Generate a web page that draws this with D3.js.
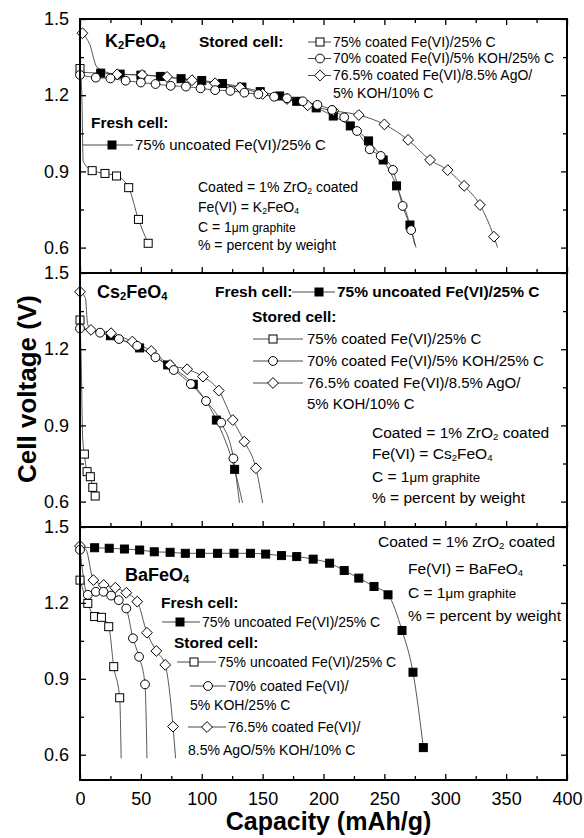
<!DOCTYPE html>
<html>
<head>
<meta charset="utf-8">
<script src="https://cdn.jsdelivr.net/npm/d3@7"></script>
<style>
  body { margin: 0; background: #fff; }
  svg { display: block; font-family: "Liberation Sans", Arial, Helvetica, sans-serif; }
</style>
</head>
<body>
<div id="chart"></div>
<script>
// ---- data: [capacity mAh/g, cell voltage V] ; a third value 0 marks a curve knot with no symbol
const capTicks = [0, 50, 100, 150, 200, 250, 300, 350, 400];
const capMinor = [25, 75, 125, 175, 225, 275, 325, 375];
const voltTicks = [0.6, 0.9, 1.2, 1.5];
const voltMinor = [0.75, 1.05, 1.35];

// K2FeO4
const kFresh = [[0,1.29,0],[17,1.287],[33,1.283],[50,1.279],[66,1.274],[83,1.265],[100,1.258],[117,1.246],[133,1.232],[148,1.214],[164,1.197],[178,1.176],[194,1.150],[208,1.118],[222,1.079],[237,1.020],[249,0.945],[260,0.843],[271,0.689],[276,0.60,0]];
const kCoated = [[0,1.305],[1.5,1.2,0],[2.6,0.94,0],[10,0.903],[20.5,0.892],[30,0.882],[40,0.836],[48,0.711],[56,0.617]];
const kKoh = [[0,1.28],[13,1.269],[25,1.266],[37.5,1.257],[50,1.25],[62,1.244],[74.5,1.237],[87,1.234],[99,1.227],[111,1.22],[123.5,1.217],[135,1.21],[146.5,1.204],[159.5,1.194],[170,1.188],[183,1.176],[195,1.162],[207,1.142],[217,1.113],[227.5,1.059],[238,0.987],[247,0.961],[257,0.906],[265,0.764],[272,0.669],[275,0.61,0]];
const kAgo = [[2,1.444],[8,1.40,0],[14,1.31,0],[30.5,1.282],[51,1.28],[71.5,1.272],[92,1.259],[111,1.247],[131.5,1.23],[150,1.205],[170,1.185],[187,1.16],[208,1.139],[229,1.122],[250,1.085],[269.5,1.024],[287.5,0.945],[302,0.905],[315.5,0.843],[328.5,0.768],[340,0.643],[343,0.60,0]];

// Cs2FeO4
const cFresh = [[0,1.285,0],[25,1.253],[49,1.205],[72,1.138],[93,1.062],[112,0.921],[127,0.727],[133.5,0.595,0]];
const cCoated = [[0,1.315],[1,1.15,0],[2.2,0.85,0],[3.6,0.787],[5.8,0.718],[8.5,0.698],[10.5,0.656],[12.5,0.622]];
const cKoh = [[0,1.282],[16.5,1.265],[32,1.24],[47,1.213],[62,1.168],[77,1.118],[91,1.063],[103.5,0.996],[116,0.911],[126,0.77],[131,0.595,0]];
const cAgo = [[0,1.426],[4.5,1.40,0],[6.2,1.30,0],[9,1.276],[25.5,1.263],[43,1.23],[58.5,1.193],[74,1.138],[88,1.121],[101,1.092],[114,1.037],[125.5,0.921],[135,0.836],[144.5,0.731],[150,0.595,0]];

// BaFeO4
const bFresh = [[0,1.42,0],[12,1.418],[24,1.416],[36.5,1.413],[49,1.409],[61,1.402],[74,1.400],[86.5,1.396],[99,1.396],[113,1.396],[126.5,1.396],[140,1.396],[152.5,1.393],[165.5,1.387],[178,1.383],[191.5,1.373],[205,1.357],[217,1.328],[229,1.298],[241.5,1.265],[253,1.232],[264.5,1.091],[273.5,0.926],[282,0.628]];
const bUncoated = [[0,1.29],[6.4,1.198],[12,1.146],[17.6,1.143],[23.6,1.106],[27.7,0.948],[32.6,0.825],[33.8,0.586,0]];
const bKoh = [[0,1.41],[6.4,1.232],[13,1.244],[19.3,1.244],[25.6,1.229],[31.8,1.211],[38,1.178],[43.5,1.06],[48.5,0.987],[53.4,0.878],[55,0.586,0]];
const bAgo = [[0,1.425],[5,1.41,0],[11,1.29],[19.5,1.271],[29,1.26],[38,1.24],[47,1.205],[55,1.082],[62.7,1.01],[70,0.955],[76.4,0.711],[78.5,0.586,0]];

// ---- layout
const W = 584, H = 838;
const left = 80, right = 567;
const panels = [
  { top: 19,  bottom: 273, series: [[kFresh,'sqf'],[kCoated,'sq'],[kAgo,'dia'],[kKoh,'cir']], topTicks: true,  labels: false },
  { top: 273, bottom: 527, series: [[cFresh,'sqf'],[cCoated,'sq'],[cAgo,'dia'],[cKoh,'cir']], topTicks: false, labels: false },
  { top: 527, bottom: 780, series: [[bFresh,'sqf'],[bUncoated,'sq'],[bAgo,'dia'],[bKoh,'cir']], topTicks: false, labels: true }
];

const svg = d3.select('#chart').append('svg').attr('width', W).attr('height', H);
const x = d3.scaleLinear().domain([0, 400]).range([left, right]);

function marker(g, type, cx, cy) {
  if (type === 'sq' || type === 'sqf') {
    g.append('rect').attr('x', cx - 4).attr('y', cy - 4).attr('width', 8).attr('height', 8)
      .attr('fill', type === 'sqf' ? '#000' : '#fff').attr('stroke', '#000').attr('stroke-width', 1);
  } else if (type === 'cir') {
    g.append('circle').attr('cx', cx).attr('cy', cy).attr('r', 4.4)
      .attr('fill', '#fff').attr('stroke', '#000').attr('stroke-width', 1);
  } else {
    const s = 5.4;
    g.append('path').attr('d', `M${cx},${cy - s}L${cx + s},${cy}L${cx},${cy + s}L${cx - s},${cy}Z`)
      .attr('fill', '#fff').attr('stroke', '#000').attr('stroke-width', 1);
  }
}

function rich(g, tx, ty, parts, size, weight) {
  const t = g.append('text').attr('x', tx).attr('y', ty).attr('dy', '0.35em')
    .style('font-size', size + 'px').style('font-weight', weight || 'normal').attr('fill', '#000');
  parts.forEach(p => {
    if (typeof p === 'string') t.append('tspan').text(p);
    else if (p.sub) t.append('tspan').attr('baseline-shift', '-22%').style('font-size', (size * 0.62) + 'px').text(p.sub);
    else if (p.small) t.append('tspan').style('font-size', (size * 0.86) + 'px').text(p.small);
  });
  return t;
}

function legendRow(g, x1, x2, mx, y, type) {
  g.append('line').attr('x1', x1).attr('x2', x2).attr('y1', y).attr('y2', y)
    .attr('stroke', '#333').attr('stroke-width', 0.9);
  marker(g, type, mx, y);
}

panels.forEach(p => {
  const y = d3.scaleLinear().domain([0.5, 1.5]).range([p.bottom, p.top]);
  p.y = y;
  const g = svg.append('g');

  const line = d3.line().x(d => x(d[0])).y(d => y(d[1])).curve(d3.curveMonotoneX);
  p.series.forEach(([data]) => {
    g.append('path').datum(data).attr('d', line)
      .attr('fill', 'none').attr('stroke', '#444').attr('stroke-width', 0.9);
  });
  p.series.forEach(([data, type]) => {
    data.filter(d => d[2] !== 0).forEach(d => marker(g, type, x(d[0]), y(d[1])));
  });

  // axes
  const styleAxis = a => {
    a.select('.domain').remove();
    a.selectAll('line').attr('stroke', '#000').attr('stroke-width', 1.3);
    a.selectAll('text').style('font-size', '18px').attr('fill', '#000');
  };
  g.append('g').attr('transform', `translate(0,${p.bottom})`)
    .call(d3.axisBottom(x).tickValues(capTicks).tickSize(-6).tickPadding(12)
      .tickFormat(p.labels ? d3.format('d') : () => ''))
    .call(styleAxis);
  g.append('g').attr('transform', `translate(0,${p.bottom})`)
    .call(d3.axisBottom(x).tickValues(capMinor).tickSize(-4).tickFormat(() => ''))
    .call(styleAxis);
  if (p.topTicks) {
    g.append('g').attr('transform', `translate(0,${p.top})`)
      .call(d3.axisTop(x).tickValues(capTicks).tickSize(-6).tickFormat(() => ''))
      .call(styleAxis);
    g.append('g').attr('transform', `translate(0,${p.top})`)
      .call(d3.axisTop(x).tickValues(capMinor).tickSize(-4).tickFormat(() => ''))
      .call(styleAxis);
  }
  g.append('g').attr('transform', `translate(${left},0)`)
    .call(d3.axisLeft(y).tickValues(voltTicks).tickSize(-6).tickPadding(11).tickFormat(d3.format('.1f')))
    .call(styleAxis);
  g.append('g').attr('transform', `translate(${left},0)`)
    .call(d3.axisLeft(y).tickValues(voltMinor).tickSize(-4).tickFormat(() => ''))
    .call(styleAxis);
  g.append('g').attr('transform', `translate(${right},0)`)
    .call(d3.axisRight(y).tickValues(voltTicks).tickSize(-6).tickFormat(() => ''))
    .call(styleAxis);
  g.append('g').attr('transform', `translate(${right},0)`)
    .call(d3.axisRight(y).tickValues(voltMinor).tickSize(-4).tickFormat(() => ''))
    .call(styleAxis);

  g.append('rect').attr('x', left).attr('y', p.top).attr('width', right - left).attr('height', p.bottom - p.top)
    .attr('fill', 'none').attr('stroke', '#000').attr('stroke-width', 2);
});

// ---- annotations, panel 1 (K2FeO4)
const a = svg.append('g');
rich(a, 105, 41, ['K', {sub: '2'}, 'FeO', {sub: '4'}], 18, 'bold');
rich(a, 199, 42, ['Stored cell:'], 15.5, 'bold');
legendRow(a, 308, 331, 320, 42, 'sq');
rich(a, 333, 42, ['75% coated Fe(VI)/25% C'], 14);
legendRow(a, 308, 331, 320, 58.5, 'cir');
rich(a, 333, 58.5, ['70% coated Fe(VI)/5% KOH/25% C'], 14);
legendRow(a, 308, 331, 320, 75.5, 'dia');
rich(a, 333, 75.5, ['76.5% coated Fe(VI)/8.5% AgO/'], 14);
rich(a, 333, 93, ['5% KOH/10% C'], 14);
rich(a, 91, 123, ['Fresh cell:'], 15.5, 'bold');
legendRow(a, 83, 133, 112, 145, 'sqf');
rich(a, 135, 145, ['75% uncoated Fe(VI)/25% C'], 15);
rich(a, 198, 187, ['Coated = 1% ZrO', {sub: '2'}, ' coated'], 14);
rich(a, 198, 207, ['Fe(VI) = K', {sub: '2'}, 'FeO', {sub: '4'}], 14);
rich(a, 198, 227, ['C = 1', {small: 'μm graphite'}], 14);
rich(a, 198, 245, ['% = percent by weight'], 14);

// ---- panel 2 (Cs2FeO4)
rich(a, 97, 292, ['Cs', {sub: '2'}, 'FeO', {sub: '4'}], 18, 'bold');
rich(a, 215, 292, ['Fresh cell:'], 15.5, 'bold');
legendRow(a, 292, 335, 319, 292, 'sqf');
rich(a, 337, 292, ['75% uncoated Fe(VI)/25% C'], 15.5, 'bold');
rich(a, 252, 317, ['Stored cell:'], 15.5, 'bold');
legendRow(a, 253, 303, 273, 339, 'sq');
rich(a, 307, 339, ['75% coated Fe(VI)/25% C'], 15);
legendRow(a, 253, 303, 273, 361, 'cir');
rich(a, 307, 361, ['70% coated Fe(VI)/5% KOH/25% C'], 15);
legendRow(a, 253, 303, 273, 383, 'dia');
rich(a, 307, 383, ['76.5% coated Fe(VI)/8.5% AgO/'], 15);
rich(a, 307, 404, ['5% KOH/10% C'], 15);
rich(a, 372, 433, ['Coated = 1% ZrO', {sub: '2'}, ' coated'], 15.5);
rich(a, 372, 454, ['Fe(VI) = Cs', {sub: '2'}, 'FeO', {sub: '4'}], 15.5);
rich(a, 372, 477, ['C = 1', {small: 'μm graphite'}], 15.5);
rich(a, 372, 498, ['% = percent by weight'], 15.5);

// ---- panel 3 (BaFeO4)
rich(a, 125, 575, ['BaFeO', {sub: '4'}], 18, 'bold');
rich(a, 161, 603, ['Fresh cell:'], 15.5, 'bold');
legendRow(a, 162, 200, 180, 622, 'sqf');
rich(a, 202, 622, ['75% uncoated Fe(VI)/25% C'], 14);
rich(a, 174, 643, ['Stored cell:'], 15.5, 'bold');
legendRow(a, 177, 216, 194, 662, 'sq');
rich(a, 218, 662, ['75% uncoated Fe(VI)/25% C'], 14);
legendRow(a, 190, 226, 208, 686, 'cir');
rich(a, 228, 686, ['70% coated Fe(VI)/'], 14);
rich(a, 190, 705, ['5% KOH/25% C'], 14);
legendRow(a, 188, 226, 207, 727, 'dia');
rich(a, 228, 727, ['76.5% coated Fe(VI)/'], 14);
rich(a, 188, 750, ['8.5% AgO/5% KOH/10% C'], 14);
rich(a, 378, 542, ['Coated = 1% ZrO', {sub: '2'}, ' coated'], 15.5);
rich(a, 408, 569, ['Fe(VI) = BaFeO', {sub: '4'}], 15.5);
rich(a, 408, 593, ['C = 1', {small: 'μm graphite'}], 15.5);
rich(a, 408, 616, ['% = percent by weight'], 15.5);

// ---- axis titles
svg.append('text').attr('transform', 'translate(36,389) rotate(-90)')
  .attr('text-anchor', 'middle').style('font-size', '26px').style('font-weight', 'bold')
  .text('Cell voltage (V)');
svg.append('text').attr('x', (left + right) / 2 + 5).attr('y', 830)
  .attr('text-anchor', 'middle').style('font-size', '25px').style('font-weight', 'bold')
  .text('Capacity (mAh/g)');
</script>
</body>
</html>
